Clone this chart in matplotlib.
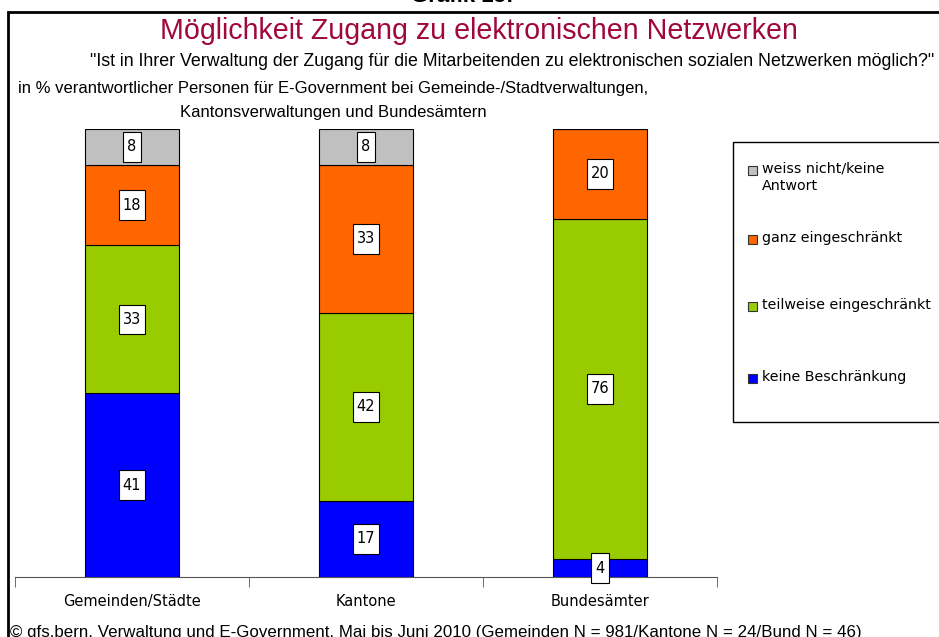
import matplotlib
matplotlib.use("Agg")
import matplotlib.pyplot as plt
from matplotlib.patches import Rectangle
from matplotlib.path import Path
import numpy as np

categories = ["Gemeinden/Städte", "Kantone", "Bundesämter"]
series_names = ["keine Beschränkung", "teilweise eingeschränkt", "ganz eingeschränkt",
                "weiss nicht/keine\nAntwort"]
keine = [41, 17, 4]
teilweise = [33, 42, 76]
ganz = [18, 33, 20]
weiss = [8, 8, 0]
series = [keine, teilweise, ganz, weiss]
colors = ["#0000FF", "#99CC00", "#FF6600", "#C0C0C0"]

W, H = 939, 637
fig = plt.figure(figsize=(W / 100, H / 100), dpi=100)

narrow = ["Liberation Sans", "DejaVu Sans"]
body = ["DejaVu Sans"]


def fx(px):
    return px / W


def fy(py):
    return 1 - py / H


ax = fig.add_axes([fx(15), fy(577), fx(717) - fx(15), fy(129) - fy(577)])
x = np.arange(len(categories))
bottom = np.zeros(len(categories))


def tallbox(x0, y0, width, height, mutation_size):
    px = 0.28 * mutation_size
    py = 0.5 * mutation_size
    x0 -= px
    y0 -= py
    x1 = x0 + width + 2 * px
    y1 = y0 + height + 2 * py
    return Path([(x0, y0), (x1, y0), (x1, y1), (x0, y1), (x0, y0)],
                [Path.MOVETO, Path.LINETO, Path.LINETO, Path.LINETO, Path.CLOSEPOLY])


for vals, col in zip(series, colors):
    vals = np.array(vals, dtype=float)
    ax.bar(x, vals, width=0.4, bottom=bottom, color=col, edgecolor="black", linewidth=0.8, zorder=2)
    for xi, v, b in zip(x, vals, bottom):
        if v > 0:
            ax.text(xi, b + v / 2, f"{int(v)}", ha="center", va="center", fontsize=10.5,
                    family=body, color="black", zorder=5, clip_on=False,
                    bbox=dict(boxstyle=tallbox, facecolor="white", edgecolor="black", linewidth=0.8))
    bottom += vals

ax.set_xlim(-0.5, 2.5)
ax.set_ylim(0, 100)
for s in ["top", "right", "left"]:
    ax.spines[s].set_visible(False)
ax.spines["bottom"].set_color("#555555")
ax.set_yticks([])
ax.set_xticks(x)
ax.set_xticklabels(categories, fontsize=10.5, family=body)
ax.tick_params(axis="x", which="major", length=0, pad=12)
ax.set_xticks([-0.5, 0.5, 1.5, 2.5], minor=True)
ax.tick_params(axis="x", which="minor", length=7, color="#555555", direction="out")
ax.patch.set_alpha(0)

# frame
fig.patches.append(Rectangle((fx(8), -0.2), 1.5, fy(12) + 0.2, transform=fig.transFigure,
                             fill=False, edgecolor="black", linewidth=2))

# titles
fig.text(fx(462), fy(-3), "Grafik 15:", ha="center", va="center", fontsize=16, weight="bold",
         family=narrow)
fig.text(fx(479), fy(31), "Möglichkeit Zugang zu elektronischen Netzwerken", ha="center",
         va="center", fontsize=20.6, color="#A0073A", family=narrow)
fig.text(fx(512), fy(62), "\"Ist in Ihrer Verwaltung der Zugang für die Mitarbeitenden zu elektronischen sozialen Netzwerken möglich?\"",
         ha="center", va="center", fontsize=12.8, family=narrow)
fig.text(fx(18), fy(89), "in % verantwortlicher Personen für E-Government bei Gemeinde-/Stadtverwaltungen,",
         ha="left", va="center", fontsize=12, family=narrow)
fig.text(fx(180), fy(112), "Kantonsverwaltungen und Bundesämtern",
         ha="left", va="center", fontsize=12, family=narrow)
fig.text(fx(10), fy(632), "© gfs.bern, Verwaltung und E-Government, Mai bis Juni 2010 (Gemeinden N = 981/Kantone N = 24/Bund N = 46)",
         ha="left", va="center", fontsize=12.2, family=narrow)

# legend
fig.patches.append(Rectangle((fx(733), fy(422)), 0.5, fy(142) - fy(422), transform=fig.transFigure,
                             facecolor="white", edgecolor="black", linewidth=1))
leg_y = [378, 306, 239, 170]
for name, col, ly in zip(series_names, colors, leg_y):
    fig.patches.append(Rectangle((fx(748), fy(ly + 5)), fx(9), fy(ly - 4) - fy(ly + 5),
                                 transform=fig.transFigure, facecolor=col, edgecolor="#333333",
                                 linewidth=0.8))
    fig.text(fx(762), fy(ly - 8), name, ha="left", va="top", fontsize=10.3, family=body,
             linespacing=1.3)

fig.savefig("out.png", dpi=100)
